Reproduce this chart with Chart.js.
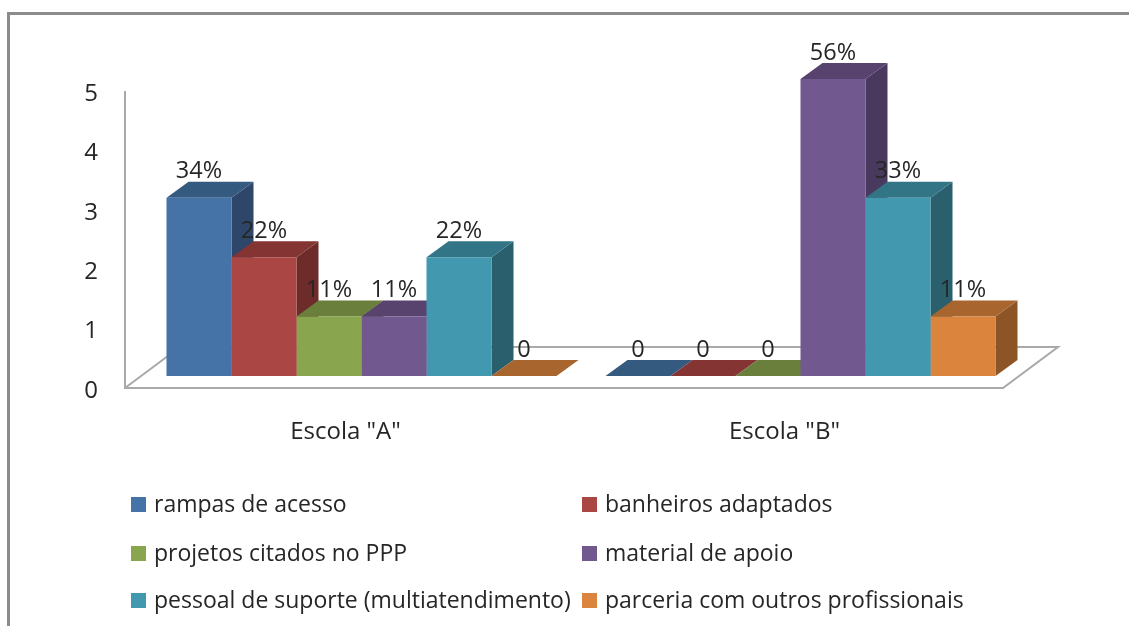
<!DOCTYPE html>
<html>
<head>
<meta charset="utf-8">
<style>
  body { margin: 0; background: #fff; overflow: hidden; }
  #frame { position: absolute; left: 7px; top: 12px; right: 0; bottom: 0; border-top: 3px solid #8c8c8c; border-left: 3px solid #8c8c8c; }
  canvas { position: absolute; left: 0; top: 0; }
</style>
<script src="https://cdn.jsdelivr.net/npm/chart.js@4"></script>
</head>
<body>
<div id="frame"></div>
<canvas id="chart" width="1129" height="626"></canvas>
<script>
const escolas = ['Escola "A"', 'Escola "B"'];
const rampas = [3, 0];
const banheiros = [2, 0];
const projetos = [1, 0];
const material = [1, 5];
const pessoal = [2, 3];
const parceria = [0, 1];

const rampasLabels = ['34%', '0'];
const banheirosLabels = ['22%', '0'];
const projetosLabels = ['11%', '0'];
const materialLabels = ['11%', '56%'];
const pessoalLabels = ['22%', '33%'];
const parceriaLabels = ['0', '11%'];

const yTicks = [0, 1, 2, 3, 4, 5];

const font = '"Open Sans", sans-serif';
const textColor = '#262626';
const axisColor = '#a9a9a9';

// bar depth, the fake 3d look
const depthX = 22, depthY = 16;

function poly(ctx, pts, color) {
  ctx.fillStyle = color;
  ctx.beginPath();
  pts.forEach((p, i) => i ? ctx.lineTo(p[0], p[1]) : ctx.moveTo(p[0], p[1]));
  ctx.closePath();
  ctx.fill();
}

const fake3d = {
  id: 'fake3d',
  beforeDatasetsDraw(chart) {
    const ctx = chart.ctx, a = chart.chartArea;
    const base = chart.scales.y.getPixelForValue(0);
    const top = chart.scales.y.getPixelForValue(5);
    const fx0 = a.left - 17, fx1 = a.right - 17, fy = base + 12;
    const bx0 = a.left + 38, bx1 = a.right + 38, by = base - 29;

    ctx.save();
    ctx.strokeStyle = axisColor;
    ctx.lineWidth = 2;
    ctx.beginPath();
    ctx.moveTo(fx0, top + 12);
    ctx.lineTo(fx0, fy);
    ctx.lineTo(fx1, fy);
    ctx.lineTo(bx1, by);
    ctx.lineTo(bx0, by);
    ctx.lineTo(fx0, fy);
    ctx.stroke();

    // sides and tops go left to right so the next bar sits over the last one
    chart.data.datasets.forEach((ds, i) => {
      chart.getDatasetMeta(i).data.forEach(bar => {
        const l = bar.x - bar.width / 2, r = bar.x + bar.width / 2;
        if (bar.base - bar.y > 0.5) {
          poly(ctx, [[r, bar.y], [r + depthX, bar.y - depthY], [r + depthX, bar.base - depthY], [r, bar.base]], ds.sideColor);
        }
        poly(ctx, [[l, bar.y], [l + depthX, bar.y - depthY], [r + depthX, bar.y - depthY], [r, bar.y]], ds.topColor);
      });
    });
    ctx.restore();
  },
  afterDatasetsDraw(chart) {
    const ctx = chart.ctx;
    ctx.save();
    ctx.font = '23.5px ' + font;
    ctx.fillStyle = textColor;
    ctx.textAlign = 'center';
    ctx.textBaseline = 'middle';
    chart.data.datasets.forEach((ds, i) => {
      chart.getDatasetMeta(i).data.forEach((bar, j) => {
        ctx.fillText(ds.valueLabels[j], bar.x, bar.y - 26);
      });
    });
    ctx.restore();
  },
  afterDraw(chart) {
    const ctx = chart.ctx;
    ctx.save();
    ctx.font = '23px ' + font;
    ctx.textBaseline = 'middle';
    chart.data.datasets.forEach((ds, i) => {
      const col = i % 2, row = Math.floor(i / 2);
      const x = col ? 582 : 131, y = [504, 553, 600][row];
      ctx.fillStyle = ds.backgroundColor;
      ctx.fillRect(x, y - 7, 15, 15);
      ctx.fillStyle = textColor;
      ctx.fillText(ds.label, x + 23, y + 1);
    });
    ctx.restore();
  }
};

new Chart('chart', {
  type: 'bar',
  plugins: [fake3d],
  data: {
    labels: escolas,
    datasets: [
      { label: 'rampas de acesso', data: rampas, valueLabels: rampasLabels, backgroundColor: '#4573a7', topColor: '#355a80', sideColor: '#2d4669' },
      { label: 'banheiros adaptados', data: banheiros, valueLabels: banheirosLabels, backgroundColor: '#aa4644', topColor: '#843533', sideColor: '#6d2c2a' },
      { label: 'projetos citados no PPP', data: projetos, valueLabels: projetosLabels, backgroundColor: '#89a54e', topColor: '#6a7f3c', sideColor: '#566832' },
      { label: 'material de apoio', data: material, valueLabels: materialLabels, backgroundColor: '#71588f', topColor: '#57436e', sideColor: '#4a395e' },
      { label: 'pessoal de suporte (multiatendimento)', data: pessoal, valueLabels: pessoalLabels, backgroundColor: '#4298af', topColor: '#327587', sideColor: '#2a606e' },
      { label: 'parceria com outros profissionais', data: parceria, valueLabels: parceriaLabels, backgroundColor: '#db843d', topColor: '#a8652e', sideColor: '#8d5526' }
    ]
  },
  options: {
    responsive: false,
    animation: false,
    events: [],
    layout: { padding: { left: 0, top: 79, right: 109, bottom: 0 } },
    plugins: { legend: { display: false }, tooltip: { enabled: false } },
    datasets: { bar: { categoryPercentage: 390 / 439, barPercentage: 1, borderWidth: 0 } },
    scales: {
      x: {
        grid: { display: false, drawTicks: false },
        border: { display: false },
        ticks: { color: textColor, font: { family: font, size: 24 }, padding: 42, labelOffset: -16, maxRotation: 0 },
        afterFit(s) { s.height = 250; }
      },
      y: {
        min: 0,
        max: 5,
        grid: { display: false, drawTicks: false },
        border: { display: false },
        afterBuildTicks(s) { s.ticks = yTicks.map(v => ({ value: v })); },
        ticks: { color: textColor, font: { family: font, size: 24 }, padding: 44, labelOffset: 15 },
        afterFit(s) { s.width = 142; }
      }
    }
  }
});
</script>
</body>
</html>
